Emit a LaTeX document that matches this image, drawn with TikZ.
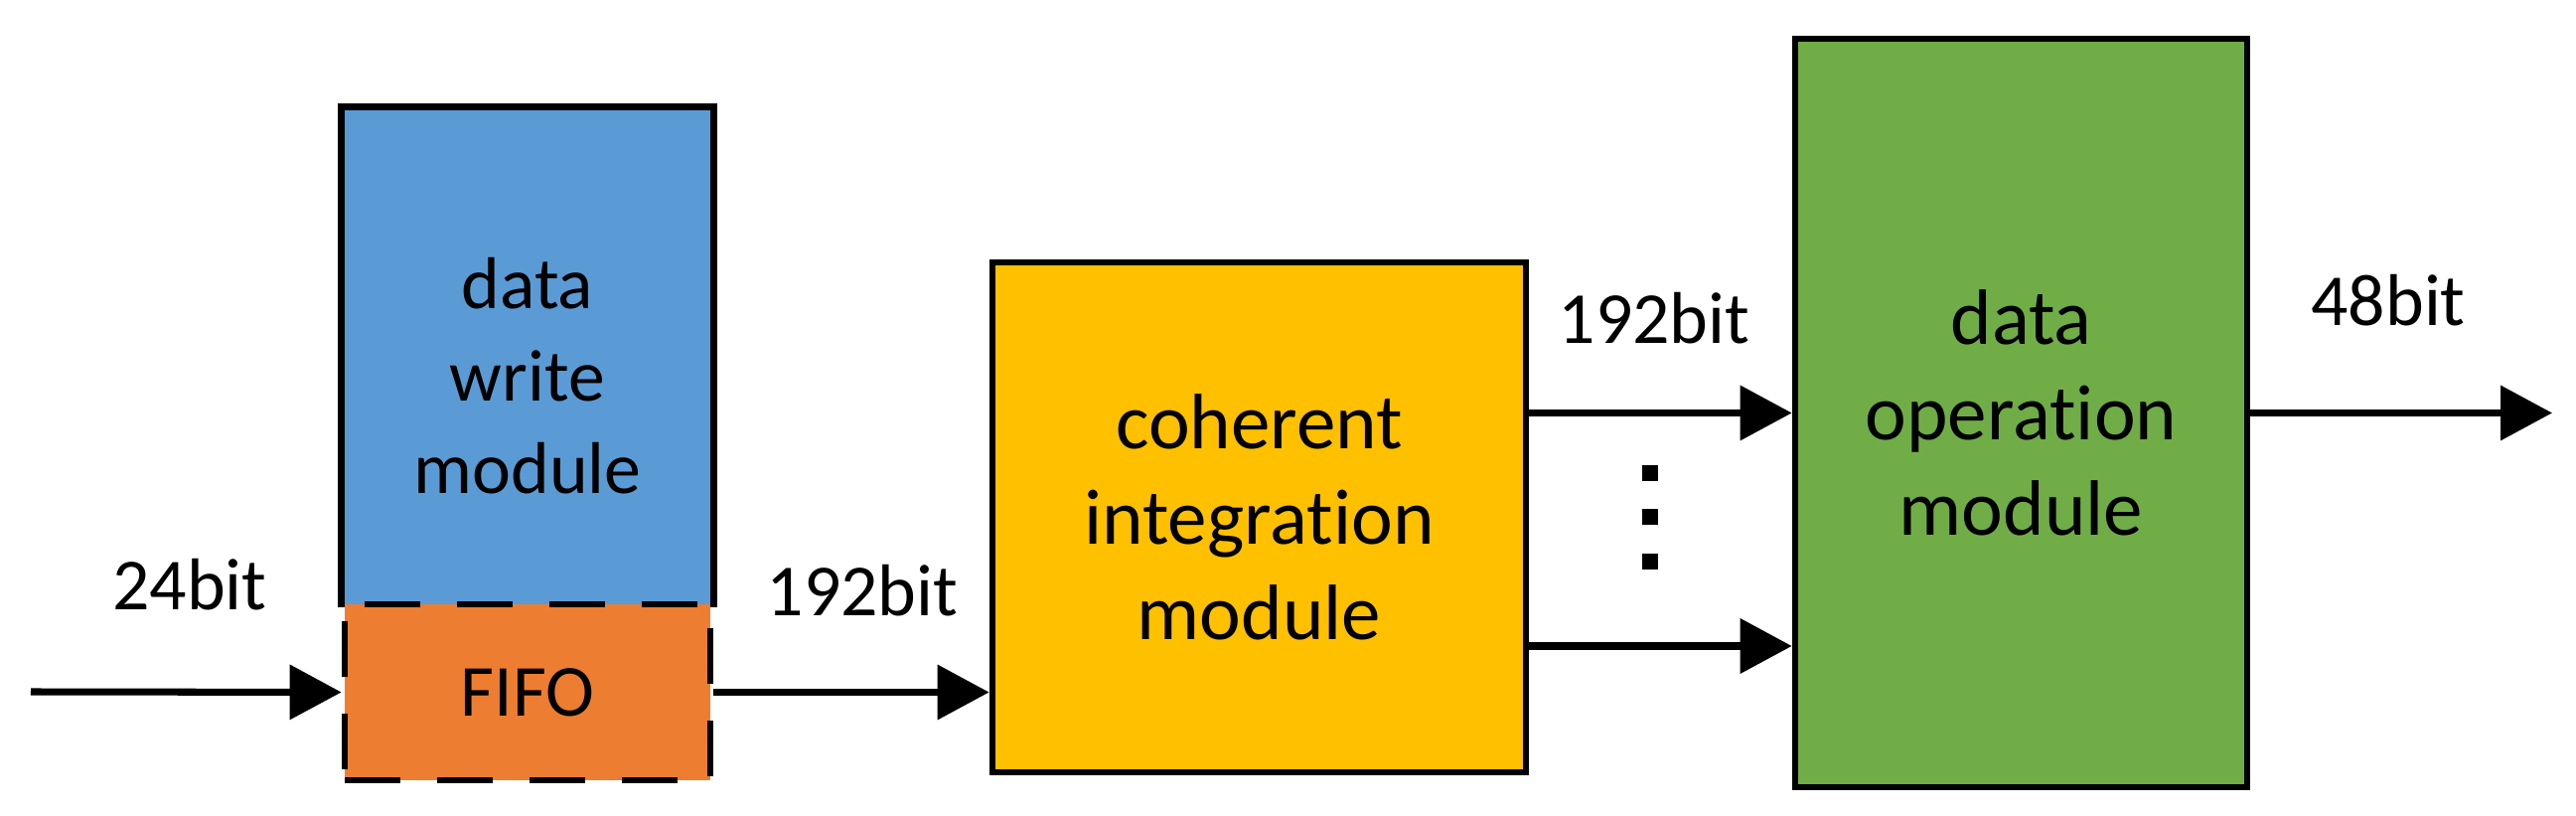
\documentclass[tikz,border=0pt]{standalone}
\usepackage{fontspec}
\setmainfont{Carlito}[Ligatures=NoCommon]
\usetikzlibrary{arrows.meta}
\definecolor{wblue}{HTML}{5B9BD5}
\definecolor{forange}{HTML}{ED7D31}
\definecolor{cyellow}{HTML}{FFC000}
\definecolor{ogreen}{HTML}{70AD47}
\tikzset{
  block/.style={rectangle,inner sep=0pt,align=center,line width=1.9pt},
  txt/.style={font=\fontsize{21}{26.5}\selectfont},
  bigtxt/.style={font=\fontsize{22.5}{27.3}\selectfont},
  arr/.style={line width=2pt,-{Triangle[length=0.52cm,width=0.54cm]}}
}

\begin{document}
\begin{tikzpicture}
  \useasboundingbox (0,0) rectangle (25.93,8.2);

  \node[block,fill=wblue,minimum width=3.68cm,minimum height=4.97cm,
  label={[txt,align=center,yshift=-0.19cm]center:data\\write\\module}] (write) at (5.31,4.605) {};
  \draw[line width=1.9pt] (write.south west) -- (write.north west)
  -- (write.north east) -- (write.south east);
  \node[block,txt,fill=forange,draw,dash pattern=on 0.56cm off 0.37cm,
  minimum width=3.68cm,minimum height=1.77cm] (fifo) at (5.31,1.235) {FIFO};
  \node[block,bigtxt,fill=cyellow,draw,minimum width=5.37cm,
  minimum height=5.13cm] (coh) at (12.675,2.995) {coherent\\integration\\module};
  \node[block,bigtxt,fill=ogreen,draw,minimum width=4.55cm,
  minimum height=7.53cm] (op) at (20.345,4.045) {data\\operation\\module};

  \coordinate (in) at (0.31,1.24);
  \coordinate (low) at (0,1.70);
  \coordinate (out) at (25.69,4.04);

  \draw[arr] (in) -- (fifo.west);
  \draw[arr] (fifo.east) -- (fifo.east -| coh.west);
  \draw[arr] (coh.east |- op.west) -- (op.west);
  \draw[arr] (coh.east |- low) -- (op.west |- low);
  \draw[arr] (op.east) -- (out |- op.east);

  \node[txt] (inbits) at (1.91,2.32) {24bit};
  \node[txt] (fifobits) at (8.68,2.26) {192bit};
  \node[txt] (cohbits) at (16.65,5.00) {192bit};
  \node[txt] (outbits) at (24.04,5.18) {48bit};

  % vertical dots between the two 192bit lanes
  \foreach \y in {3.44,3.00,2.55}
    \fill (16.53,\y-0.08) rectangle ++(0.16,0.16);
 \end{tikzpicture}
\end{document}
